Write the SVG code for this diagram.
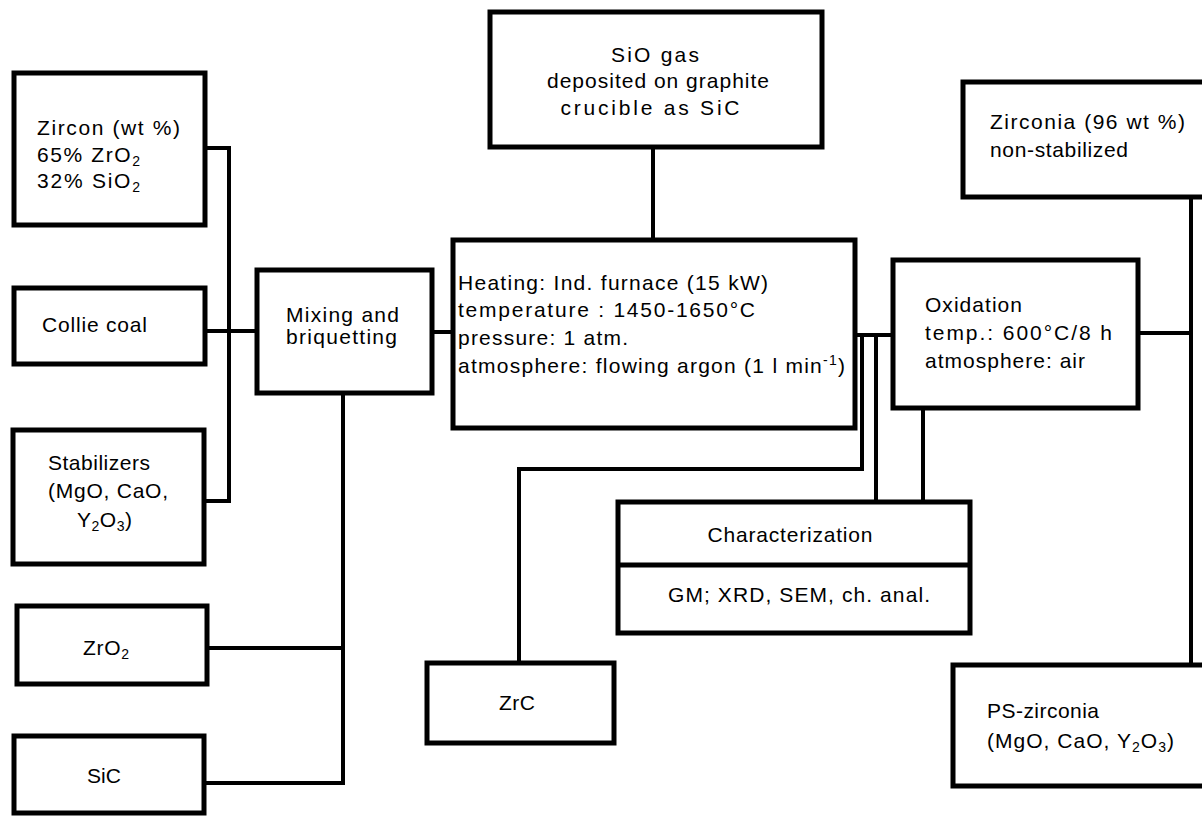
<svg xmlns="http://www.w3.org/2000/svg" width="1202" height="819" viewBox="0 0 1202 819">
<style>
.box{fill:#fff;stroke:#000;stroke-width:5}
.ln{fill:none;stroke:#000;stroke-width:4;stroke-linecap:square}
text{font-family:"Liberation Sans",Arial,Helvetica,sans-serif;font-size:21px;fill:#000}
.s{font-size:14px}
.m{text-anchor:middle}
</style>
<rect width="1202" height="819" fill="#fff"/>
<g id="connectors">
<path class="ln" d="M205,148 H229 V501 H204"/>
<path class="ln" d="M205,331 H257"/>
<path class="ln" d="M432,332 H453"/>
<path class="ln" d="M343,393 V783"/>
<path class="ln" d="M207,648 H343"/>
<path class="ln" d="M204,783 H343"/>
<path class="ln" d="M653,147 V240"/>
<path class="ln" d="M855,335 H893"/>
<path class="ln" d="M862,335 V469 H519 V663"/>
<path class="ln" d="M876,335 V502"/>
<path class="ln" d="M923,408 V502"/>
<path class="ln" d="M1138,333 H1191"/>
<path class="ln" d="M1191,197 V665"/>
</g>
<g id="zircon">
<rect class="box" x="14" y="73" width="191" height="152"/>
<text x="37" y="135" textLength="143">Zircon (wt %)</text>
<text x="37" y="162" textLength="103">65% ZrO<tspan class="s" dy="4">2</tspan></text>
<text x="37" y="188" textLength="103">32% SiO<tspan class="s" dy="4">2</tspan></text>
</g>
<g id="collie">
<rect class="box" x="14" y="288" width="191" height="76"/>
<text x="42" y="332" textLength="105">Collie coal</text>
</g>
<g id="stabilizers">
<rect class="box" x="13" y="430" width="191" height="134"/>
<text x="48" y="470" textLength="102">Stabilizers</text>
<text x="48" y="498" textLength="120">(MgO, CaO,</text>
<text x="77" y="527" textLength="55">Y<tspan class="s" dy="4">2</tspan><tspan dy="-4">O</tspan><tspan class="s" dy="4">3</tspan><tspan dy="-4">)</tspan></text>
</g>
<g id="zro2">
<rect class="box" x="17" y="606" width="190" height="78"/>
<text x="83" y="655" textLength="46">ZrO<tspan class="s" dy="4">2</tspan></text>
</g>
<g id="sic">
<rect class="box" x="14" y="736" width="190" height="77"/>
<text x="87" y="783" textLength="34">SiC</text>
</g>
<g id="mixing">
<rect class="box" x="257" y="270" width="175" height="123"/>
<text x="286" y="322" textLength="113">Mixing and</text>
<text x="286" y="344" textLength="111">briquetting</text>
</g>
<g id="sio">
<rect class="box" x="490" y="12" width="332" height="135"/>
<text class="m" x="655" y="62" textLength="88">SiO gas</text>
<text class="m" x="658" y="88" textLength="222">deposited on graphite</text>
<text class="m" x="650" y="115" textLength="179">crucible as SiC</text>
</g>
<g id="heating">
<rect class="box" x="453" y="240" width="402" height="188"/>
<text x="458" y="290" textLength="310">Heating: Ind. furnace (15 kW)</text>
<text x="458" y="317" textLength="297">temperature : 1450-1650°C</text>
<text x="458" y="345" textLength="170">pressure: 1 atm.</text>
<text x="458" y="373" textLength="387">atmosphere: flowing argon (1 l min<tspan class="s" dy="-8">-1</tspan><tspan dy="8">)</tspan></text>
</g>
<g id="oxidation">
<rect class="box" x="893" y="260" width="245" height="148"/>
<text x="925" y="312" textLength="97">Oxidation</text>
<text x="925" y="340" textLength="187">temp.: 600°C/8 h</text>
<text x="925" y="368" textLength="160">atmosphere: air</text>
</g>
<g id="zirconia">
<rect class="box" x="963" y="82" width="260" height="115"/>
<text x="990" y="129" textLength="195">Zirconia (96 wt %)</text>
<text x="990" y="157" textLength="138">non-stabilized</text>
</g>
<g id="characterization">
<rect class="box" x="618" y="502" width="352" height="131"/>
<line x1="618" y1="565" x2="970" y2="565" stroke="#000" stroke-width="5"/>
<text class="m" x="790" y="542" textLength="165">Characterization</text>
<text x="668" y="602" textLength="262">GM; XRD, SEM, ch. anal.</text>
</g>
<g id="zrc">
<rect class="box" x="427" y="663" width="187" height="80"/>
<text class="m" x="517" y="710" textLength="36">ZrC</text>
</g>
<g id="pszirconia">
<rect class="box" x="953" y="665" width="270" height="121"/>
<text x="987" y="718" textLength="112">PS-zirconia</text>
<text x="987" y="748" textLength="187">(MgO, CaO, Y<tspan class="s" dy="4">2</tspan><tspan dy="-4">O</tspan><tspan class="s" dy="4">3</tspan><tspan dy="-4">)</tspan></text>
</g>
</svg>
